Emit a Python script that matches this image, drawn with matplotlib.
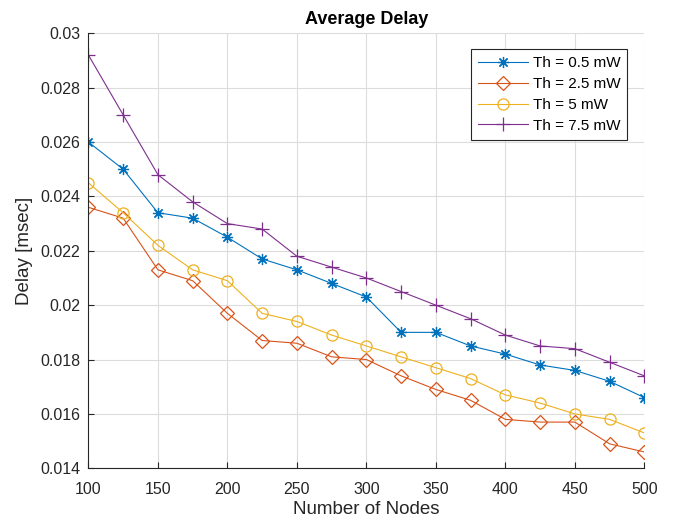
import numpy as np
import matplotlib.pyplot as plt

plt.rcParams['font.family'] = ['Liberation Sans', 'DejaVu Sans']

nodes = [100, 125, 150, 175, 200, 225, 250, 275, 300, 325, 350, 375, 400, 425, 450, 475, 500]

th_05 = [0.0260, 0.0250, 0.0234, 0.0232, 0.0225, 0.0217, 0.0213, 0.0208, 0.0203,
         0.0190, 0.0190, 0.0185, 0.0182, 0.0178, 0.0176, 0.0172, 0.0166]
th_25 = [0.0236, 0.0232, 0.0213, 0.0209, 0.0197, 0.0187, 0.0186, 0.0181, 0.0180,
         0.0174, 0.0169, 0.0165, 0.0158, 0.0157, 0.0157, 0.0149, 0.0146]
th_5 = [0.0245, 0.0234, 0.0222, 0.0213, 0.0209, 0.0197, 0.0194, 0.0189, 0.0185,
        0.0181, 0.0177, 0.0173, 0.0167, 0.0164, 0.0160, 0.0158, 0.0153]
th_75 = [0.0292, 0.0270, 0.0248, 0.0238, 0.0230, 0.0228, 0.0218, 0.0214, 0.0210,
         0.0205, 0.0200, 0.0195, 0.0189, 0.0185, 0.0184, 0.0179, 0.0174]

labels = ['Th = 0.5 mW', 'Th = 2.5 mW', 'Th = 5 mW', 'Th = 7.5 mW']
ytick_labels = ['0.014', '0.016', '0.018', '0.02', '0.022', '0.024', '0.026', '0.028', '0.03']

fig = plt.figure(figsize=(6.74, 5.23), dpi=100)
ax = fig.add_axes([0.1312, 0.1046, 0.8248, 0.8317])

ax.plot(nodes, th_05, color='#0072BD', marker=(8, 2, 0), markersize=8,
        markeredgewidth=0.9, linewidth=0.8, label=labels[0])
ax.plot(nodes, th_25, color='#D95319', marker='D', markersize=7.5, markerfacecolor='none',
        markeredgewidth=0.9, linewidth=0.8, label=labels[1])
ax.plot(nodes, th_5, color='#EDB120', marker='o', markersize=8, markerfacecolor='none',
        markeredgewidth=0.9, linewidth=0.8, label=labels[2])
ax.plot(nodes, th_75, color='#7E2F8E', marker='+', markersize=10,
        markeredgewidth=0.9, linewidth=0.8, label=labels[3])

ax.set_xlim(100, 500)
ax.set_ylim(0.014, 0.03)
ax.set_xticks(np.arange(100, 501, 50))
ax.set_yticks(np.arange(0.014, 0.0301, 0.002))
ax.set_yticklabels(ytick_labels)

# matlab style: box off, light grid
ax.grid(True, color='#dcdcdc', linewidth=0.8)
ax.set_axisbelow(True)
ax.spines['top'].set_visible(False)
ax.spines['right'].set_visible(False)
for s in ['left', 'bottom']:
    ax.spines[s].set_color('#262626')
    ax.spines[s].set_linewidth(0.8)
ax.tick_params(direction='in', length=4, colors='#262626', labelsize=11.5)
ax.tick_params(axis='x', pad=10)
ax.tick_params(axis='y', pad=6)

ax.set_xlabel('Number of Nodes', fontsize=13.5, color='#262626', labelpad=3)
ax.set_ylabel('Delay [msec]', fontsize=13.5, color='#262626', labelpad=5)
ax.set_title('Average Delay', fontsize=13, fontweight='bold', pad=7)

leg = ax.legend(loc='upper right', bbox_to_anchor=(627.3 / 674, 1 - 49.3 / 523),
                bbox_transform=fig.transFigure, borderaxespad=0, fancybox=False,
                framealpha=1, edgecolor='#262626', fontsize=11, handlelength=3.3,
                borderpad=0.45, labelspacing=0.45, handletextpad=0.3)
leg.get_frame().set_linewidth(0.8)

fig.savefig('out.png', dpi=100)
